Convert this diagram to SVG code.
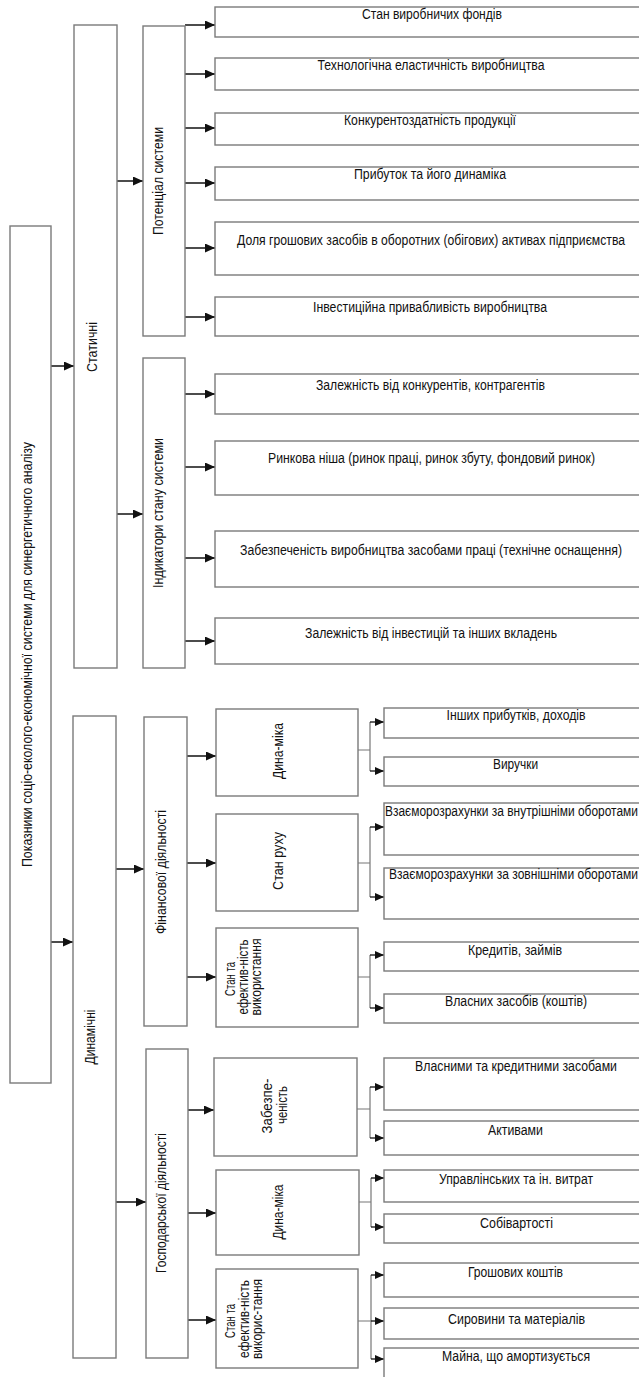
<svg xmlns="http://www.w3.org/2000/svg" width="639" height="1377" viewBox="0 0 639 1377">
<style>
rect.n{fill:#fff;stroke:#7a7a7a;stroke-width:1.4}
text{font-family:"Liberation Sans",Arial,sans-serif;font-size:14.5px;fill:#111;text-anchor:middle}
.ar{stroke:#111;stroke-width:1.5;fill:none}
.ars{stroke:#111;stroke-width:1.3;fill:none}
.gl{stroke:#777;stroke-width:1.2;fill:none}
</style>
<defs>
<marker id="ah" markerUnits="userSpaceOnUse" markerWidth="11" markerHeight="10" refX="10" refY="4.5" orient="auto"><path d="M0,0 L10,4.5 L0,9 z" fill="#111"/></marker>
<marker id="ahs" markerUnits="userSpaceOnUse" markerWidth="10" markerHeight="9" refX="9" refY="4" orient="auto"><path d="M0,0 L9,4 L0,8 z" fill="#111"/></marker>
</defs>
<rect width="639" height="1377" fill="#fff"/>

<g id="connectors">
<path class="ar" marker-end="url(#ah)" d="M51,366 H74"/>
<path class="ar" marker-end="url(#ah)" d="M51,942 H73"/>
<path class="ar" marker-end="url(#ah)" d="M117,181 H143"/>
<path class="ar" marker-end="url(#ah)" d="M117,514 H143"/>
<path class="ar" marker-end="url(#ah)" d="M116,869 H144"/>
<path class="ar" marker-end="url(#ah)" d="M116,1202 H146"/>
<path class="ar" marker-end="url(#ah)" d="M185,25 H215"/>
<path class="ar" marker-end="url(#ah)" d="M185,74 H215"/>
<path class="ar" marker-end="url(#ah)" d="M185,128 H215"/>
<path class="ar" marker-end="url(#ah)" d="M185,183 H215"/>
<path class="ar" marker-end="url(#ah)" d="M185,248 H215"/>
<path class="ar" marker-end="url(#ah)" d="M185,317 H215"/>
<path class="ar" marker-end="url(#ah)" d="M185,394 H215"/>
<path class="ar" marker-end="url(#ah)" d="M185,467 H215"/>
<path class="ar" marker-end="url(#ah)" d="M185,558 H215"/>
<path class="ar" marker-end="url(#ah)" d="M185,641 H215"/>
<path class="ar" marker-end="url(#ah)" d="M187,756 H216"/>
<path class="ar" marker-end="url(#ah)" d="M187,863 H216"/>
<path class="ar" marker-end="url(#ah)" d="M187,977 H216"/>
<path class="ar" marker-end="url(#ah)" d="M188,1110 H214"/>
<path class="ar" marker-end="url(#ah)" d="M188,1213 H216"/>
<path class="ar" marker-end="url(#ah)" d="M188,1320 H216"/>
<path class="gl" d="M358,750 H370 M370,722 V771"/>
<path class="ars" marker-end="url(#ahs)" d="M370,722 H384"/>
<path class="ars" marker-end="url(#ahs)" d="M370,771 H384"/>
<path class="gl" d="M358,863 H370 M370,827 V897"/>
<path class="ars" marker-end="url(#ahs)" d="M370,827 H384"/>
<path class="ars" marker-end="url(#ahs)" d="M370,897 H384"/>
<path class="gl" d="M358,977 H370 M370,955 V1008"/>
<path class="ars" marker-end="url(#ahs)" d="M370,955 H384"/>
<path class="ars" marker-end="url(#ahs)" d="M370,1008 H384"/>
<path class="gl" d="M357,1109 H370 M370,1087 V1138"/>
<path class="ars" marker-end="url(#ahs)" d="M370,1087 H384"/>
<path class="ars" marker-end="url(#ahs)" d="M370,1138 H384"/>
<path class="gl" d="M359,1202 H371 M371,1178 V1227"/>
<path class="ars" marker-end="url(#ahs)" d="M371,1178 H384"/>
<path class="ars" marker-end="url(#ahs)" d="M371,1227 H384"/>
<path class="gl" d="M358,1321 H371 M371,1275 V1359"/>
<path class="ars" marker-end="url(#ahs)" d="M371,1275 H384"/>
<path class="ars" marker-end="url(#ahs)" d="M371,1321 H384"/>
<path class="ars" marker-end="url(#ahs)" d="M371,1359 H384"/>
</g>

<g id="root"><rect class="n" x="10" y="226" width="41" height="857"/>
<text transform="translate(32,654.5) rotate(-90) scale(0.82,1)" textLength="518.3" lengthAdjust="spacingAndGlyphs">Показники соціо-еколого-економічної системи для синергетичного аналізу</text></g>

<g id="static"><rect class="n" x="74" y="25" width="43" height="643"/>
<text transform="translate(97,347) rotate(-90) scale(0.82,1)" textLength="61" lengthAdjust="spacingAndGlyphs">Статичні</text></g>
<g id="dynamic"><rect class="n" x="73" y="716" width="43" height="642"/>
<text transform="translate(95,1037) rotate(-90) scale(0.82,1)" textLength="67.1" lengthAdjust="spacingAndGlyphs">Динамічні</text></g>

<g id="potential"><rect class="n" x="143" y="26" width="42" height="310"/>
<text transform="translate(163,181) rotate(-90) scale(0.82,1)" textLength="131.7" lengthAdjust="spacingAndGlyphs">Потенціал системи</text></g>
<g id="indicators"><rect class="n" x="143" y="358" width="42" height="310"/>
<text transform="translate(163,513) rotate(-90) scale(0.82,1)" textLength="182.9" lengthAdjust="spacingAndGlyphs">Індикатори стану системи</text></g>
<g id="financial"><rect class="n" x="144" y="717" width="43" height="309"/>
<text transform="translate(166,872) rotate(-90) scale(0.82,1)" textLength="151.2" lengthAdjust="spacingAndGlyphs">Фінансової діяльності</text></g>
<g id="economic"><rect class="n" x="146" y="1049" width="42" height="309"/>
<text transform="translate(166,1203) rotate(-90) scale(0.82,1)" textLength="170.7" lengthAdjust="spacingAndGlyphs">Господарської діяльності</text></g>

<g id="s1"><rect class="n" x="215" y="7" width="425" height="30"/><text transform="translate(432,18.5) scale(0.82,1)" textLength="170.7" lengthAdjust="spacingAndGlyphs">Стан виробничих фондів</text></g>
<g id="s2"><rect class="n" x="215" y="58" width="425" height="32"/><text transform="translate(431,70) scale(0.82,1)" textLength="276.8" lengthAdjust="spacingAndGlyphs">Технологічна еластичність виробництва</text></g>
<g id="s3"><rect class="n" x="215" y="113" width="425" height="32"/><text transform="translate(430,124.5) scale(0.82,1)" textLength="209.8" lengthAdjust="spacingAndGlyphs">Конкурентоздатність продукції</text></g>
<g id="s4"><rect class="n" x="215" y="167" width="425" height="33"/><text transform="translate(430,179) scale(0.82,1)" textLength="185.4" lengthAdjust="spacingAndGlyphs">Прибуток та його динаміка</text></g>
<g id="s5"><rect class="n" x="215" y="222" width="425" height="53"/><text transform="translate(431,245) scale(0.82,1)" textLength="473.2" lengthAdjust="spacingAndGlyphs">Доля грошових засобів в оборотних (обігових) активах підприємства</text></g>
<g id="s6"><rect class="n" x="215" y="297" width="425" height="39"/><text transform="translate(430,312) scale(0.82,1)" textLength="285.4" lengthAdjust="spacingAndGlyphs">Інвестиційна привабливість виробництва</text></g>
<g id="i1"><rect class="n" x="215" y="374" width="425" height="40"/><text transform="translate(430.5,390) scale(0.82,1)" textLength="279.3" lengthAdjust="spacingAndGlyphs">Залежність від конкурентів, контрагентів</text></g>
<g id="i2"><rect class="n" x="215" y="441" width="425" height="54"/><text transform="translate(431.5,463) scale(0.82,1)" textLength="398.8" lengthAdjust="spacingAndGlyphs">Ринкова ніша (ринок праці, ринок збуту, фондовий ринок)</text></g>
<g id="i3"><rect class="n" x="215" y="531" width="425" height="56"/><text transform="translate(431,555) scale(0.82,1)" textLength="465.9" lengthAdjust="spacingAndGlyphs">Забезпеченість виробництва засобами праці (технічне оснащення)</text></g>
<g id="i4"><rect class="n" x="215" y="618" width="425" height="46"/><text transform="translate(431,638) scale(0.82,1)" textLength="307.3" lengthAdjust="spacingAndGlyphs">Залежність від інвестицій та інших вкладень</text></g>

<g id="f1"><rect class="n" x="216" y="709" width="142" height="87"/>
<text transform="translate(283,751) rotate(-90) scale(0.82,1)" textLength="68.3" lengthAdjust="spacingAndGlyphs">Дина-міка</text></g>
<g id="f2"><rect class="n" x="216" y="814" width="142" height="97"/>
<text transform="translate(283,861) rotate(-90) scale(0.82,1)" textLength="70.7" lengthAdjust="spacingAndGlyphs">Стан руху</text></g>
<g id="f3"><rect class="n" x="216" y="928" width="142" height="99"/>
<text transform="translate(235,979) rotate(-90) scale(0.82,1)" textLength="41.5" lengthAdjust="spacingAndGlyphs">Стан та</text>
<text transform="translate(248,977) rotate(-90) scale(0.82,1)" textLength="91.5" lengthAdjust="spacingAndGlyphs">ефектив-ність</text>
<text transform="translate(261,977) rotate(-90) scale(0.82,1)" textLength="93.9" lengthAdjust="spacingAndGlyphs">використання</text></g>
<g id="e1"><rect class="n" x="214" y="1058" width="143" height="98"/>
<text transform="translate(272,1106) rotate(-90) scale(0.82,1)" textLength="67.1" lengthAdjust="spacingAndGlyphs">Забезпе-</text>
<text transform="translate(287,1105) rotate(-90) scale(0.82,1)" textLength="46.3" lengthAdjust="spacingAndGlyphs">ченість</text></g>
<g id="e2"><rect class="n" x="216" y="1170" width="143" height="85"/>
<text transform="translate(283,1212) rotate(-90) scale(0.82,1)" textLength="67.1" lengthAdjust="spacingAndGlyphs">Дина-міка</text></g>
<g id="e3"><rect class="n" x="216" y="1269" width="142" height="99"/>
<text transform="translate(235,1321) rotate(-90) scale(0.82,1)" textLength="41.5" lengthAdjust="spacingAndGlyphs">Стан та</text>
<text transform="translate(248.5,1319) rotate(-90) scale(0.82,1)" textLength="95.1" lengthAdjust="spacingAndGlyphs">ефектив-ність</text>
<text transform="translate(262,1319) rotate(-90) scale(0.82,1)" textLength="97.6" lengthAdjust="spacingAndGlyphs">викорис-тання</text></g>

<g id="fl1"><rect class="n" x="384" y="708" width="256" height="30"/><text transform="translate(516,720) scale(0.82,1)" textLength="169.5" lengthAdjust="spacingAndGlyphs">Інших прибутків, доходів</text></g>
<g id="fl2"><rect class="n" x="384" y="757" width="256" height="29"/><text transform="translate(515.5,769) scale(0.82,1)" textLength="54.9" lengthAdjust="spacingAndGlyphs">Виручки</text></g>
<g id="fl3"><rect class="n" x="384" y="803" width="256" height="52"/><text transform="translate(511.5,816) scale(0.82,1)" textLength="308.5" lengthAdjust="spacingAndGlyphs">Взаєморозрахунки за внутрішніми оборотами</text></g>
<g id="fl4"><rect class="n" x="384" y="868" width="256" height="51"/><text transform="translate(513.5,879) scale(0.82,1)" textLength="303.7" lengthAdjust="spacingAndGlyphs">Взаєморозрахунки за зовнішніми оборотами</text></g>
<g id="fl5"><rect class="n" x="384" y="942" width="256" height="29"/><text transform="translate(515,954.5) scale(0.82,1)" textLength="114.6" lengthAdjust="spacingAndGlyphs">Кредитів, займів</text></g>
<g id="fl6"><rect class="n" x="384" y="994" width="256" height="29"/><text transform="translate(516,1006) scale(0.82,1)" textLength="173.2" lengthAdjust="spacingAndGlyphs">Власних засобів (коштів)</text></g>
<g id="el1"><rect class="n" x="384" y="1058" width="256" height="52"/><text transform="translate(516,1071) scale(0.82,1)" textLength="246.3" lengthAdjust="spacingAndGlyphs">Власними та кредитними засобами</text></g>
<g id="el2"><rect class="n" x="384" y="1121" width="256" height="34"/><text transform="translate(515.5,1135) scale(0.82,1)" textLength="67.1" lengthAdjust="spacingAndGlyphs">Активами</text></g>
<g id="el3"><rect class="n" x="384" y="1170" width="256" height="32"/><text transform="translate(516,1184) scale(0.82,1)" textLength="187.8" lengthAdjust="spacingAndGlyphs">Управлінських та ін. витрат</text></g>
<g id="el4"><rect class="n" x="384" y="1214" width="256" height="29"/><text transform="translate(516.5,1228) scale(0.82,1)" textLength="89" lengthAdjust="spacingAndGlyphs">Собівартості</text></g>
<g id="el5"><rect class="n" x="384" y="1263" width="256" height="34"/><text transform="translate(515.5,1277) scale(0.82,1)" textLength="115.9" lengthAdjust="spacingAndGlyphs">Грошових коштів</text></g>
<g id="el6"><rect class="n" x="384" y="1308" width="256" height="31"/><text transform="translate(516.5,1324) scale(0.82,1)" textLength="167.1" lengthAdjust="spacingAndGlyphs">Сировини та матеріалів</text></g>
<g id="el7"><rect class="n" x="384" y="1348" width="256" height="40"/><text transform="translate(516,1361) scale(0.82,1)" textLength="180.5" lengthAdjust="spacingAndGlyphs">Майна, що амортизується</text></g>
</svg>
